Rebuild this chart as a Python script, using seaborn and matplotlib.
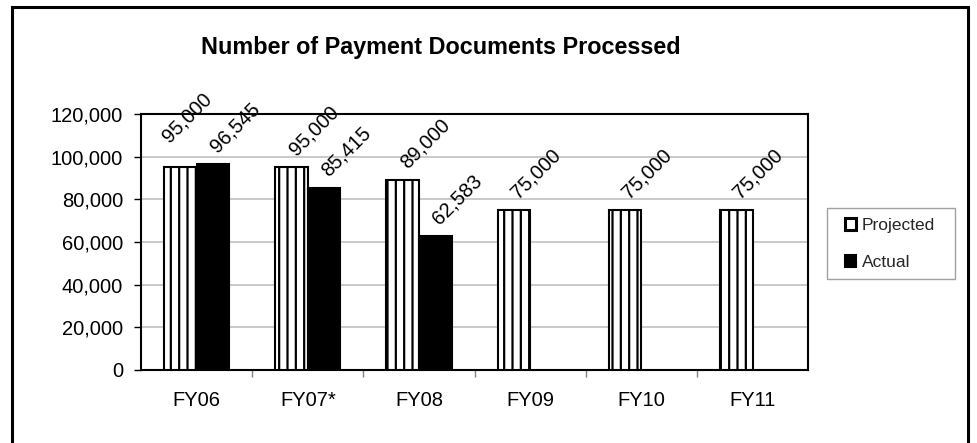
import numpy as np
import pandas as pd
import matplotlib
matplotlib.use("Agg")
import matplotlib.pyplot as plt
from matplotlib.patches import Patch, Rectangle
from matplotlib.ticker import FuncFormatter, FixedLocator
import seaborn as sns

# Payment documents processed per fiscal year
years = ["FY06", "FY07*", "FY08", "FY09", "FY10", "FY11"]
projected = [95000, 95000, 89000, 75000, 75000, 75000]
actual = [96545, 85415, 62583, np.nan, np.nan, np.nan]
series = ["Projected", "Actual"]

rows = []
for y, p, a in zip(years, projected, actual):
    rows.append({"year": y, "series": "Projected", "count": p})
    if not np.isnan(a):
        rows.append({"year": y, "series": "Actual", "count": a})
df = pd.DataFrame(rows)

sns.set_theme(style="white")
plt.rcParams["font.family"] = ["Liberation Sans", "DejaVu Sans"]
plt.rcParams["hatch.linewidth"] = 1.6
plt.rcParams["hatch.color"] = "black"

FS = 14.5

fig = plt.figure(figsize=(9.77, 4.43), dpi=100)
ax = fig.add_axes([0.1443, 0.1648, 0.6830, 0.5779])

sns.barplot(data=df, x="year", y="count", hue="series", order=years,
            hue_order=series, palette={"Projected": "white", "Actual": "black"},
            width=0.585, gap=0, errorbar=None, edgecolor="black",
            linewidth=1.5, ax=ax, legend=False, zorder=3)

# Vertical stripes on the projected bars
for cont, name in zip(ax.containers, series):
    if name == "Projected":
        for bar in cont:
            bar.set_hatch("||")

# Rotated value labels above each bar
label_nudge = {("Projected", "FY06"): (-15, 13)}
for cont, name in zip(ax.containers, series):
    for bar in cont:
        h = bar.get_height()
        if np.isnan(h) or h <= 0:
            continue
        xc = bar.get_x() + bar.get_width() / 2
        idx = int(round(xc))
        dx, dy = label_nudge.get((name, years[idx]), (0, 0))
        ax.annotate(f"{h:,.0f}", xy=(xc, h), xytext=(22 + dx, 8 + dy),
                    textcoords="offset pixels", rotation=45,
                    ha="center", va="bottom", fontsize=FS,
                    color="black", annotation_clip=False, zorder=5)

ax.set_ylim(0, 120000)
ax.set_xlim(-0.5, len(years) - 0.5)
ax.set_yticks(np.arange(0, 120001, 20000))
ax.yaxis.set_major_formatter(FuncFormatter(lambda v, _: f"{v:,.0f}"))
ax.yaxis.grid(True, color="#c0c0c0", linewidth=1.2, zorder=0)
ax.set_axisbelow(True)
ax.set_xlabel("")
ax.set_ylabel("")

ax.tick_params(axis="y", which="major", direction="out", length=5,
               width=1, color="black", pad=8, labelsize=FS,
               labelcolor="black", left=True)
ax.tick_params(axis="x", which="major", length=0, pad=15,
               labelsize=FS, labelcolor="black")
ax.xaxis.set_minor_locator(FixedLocator(np.arange(0.5, len(years) - 0.5, 1)))
ax.tick_params(axis="x", which="minor", direction="out", length=5,
               width=1, color="#808080", bottom=True)

for side in ["left", "bottom", "top", "right"]:
    ax.spines[side].set_visible(True)
    ax.spines[side].set_color("black")
    ax.spines[side].set_linewidth(1.5)

fig.text(0.451, 0.893, "Number of Payment Documents Processed",
         ha="center", va="center", fontsize=16.8, fontweight="bold",
         color="black")

# Legend entries with a separately drawn frame
handles = [Patch(facecolor="white", edgecolor="black", linewidth=2.2),
           Patch(facecolor="black", edgecolor="black", linewidth=1.5)]
leg = fig.legend(handles, series, loc="center left",
                 bbox_to_anchor=(845 / 977, 1 - 244 / 443),
                 frameon=False, fontsize=12.5,
                 handlelength=0.65, handleheight=0.65, handletextpad=0.3,
                 labelspacing=1.25, borderpad=0, borderaxespad=0)
fig.patches.append(Rectangle((827 / 977, 1 - 279 / 443), 128 / 977, 71 / 443,
                             transform=fig.transFigure, fill=False,
                             edgecolor="#a0a0a0", linewidth=1))

# Chart-area border
fig.patches.append(Rectangle((12 / 977, -0.05), (968 - 12) / 977, 1.05 - 7 / 443,
                             transform=fig.transFigure, fill=False,
                             edgecolor="black", linewidth=2.2))

fig.savefig("out.png", dpi=100)
